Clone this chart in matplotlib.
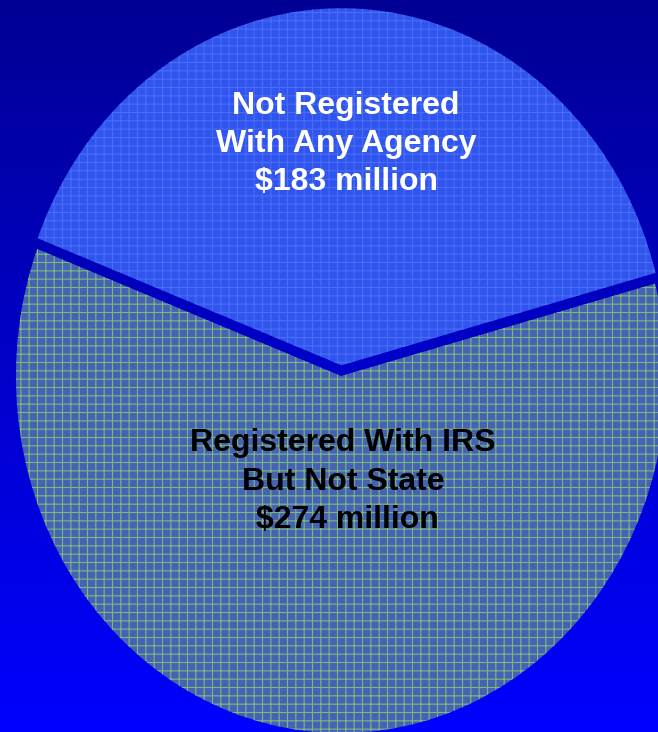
import numpy as np
import matplotlib
matplotlib.use('Agg')
import matplotlib.pyplot as plt

plt.rcParams['font.family'] = ['Liberation Sans', 'DejaVu Sans']
plt.rcParams['hatch.linewidth'] = 0.8

# data
labels = ['Not Registered\nWith Any Agency\n$183 million',
          'Registered With IRS\nBut Not State\n $274 million']
amounts = [183, 274]
slice_colors = ['#2f55ee', '#4662b4']
grid_colors = ['#4a6cf8', '#7cba7c']
text_colors = ['white', 'black']

fig = plt.figure(figsize=(6.58, 7.32), dpi=100)
ax = fig.add_axes([0, 0, 1, 1])

# pie is an ellipse in the picture, so limits are set by hand and aspect left free
xlim = (-1.049, 0.975)
ylim = (-0.997, 1.053)

# background: dark navy at top to pure blue at bottom
grad = np.linspace(0, 1, 256)
bg = np.zeros((256, 1, 3))
bg[:, 0, 2] = 1.0 - 0.42 * grad
ax.imshow(bg, extent=(xlim[0], xlim[1], ylim[0], ylim[1]),
          aspect='auto', origin='lower', zorder=0)

wedges, _ = ax.pie(amounts, colors=slice_colors, startangle=15,
                   explode=[0.03, 0], counterclock=True,
                   wedgeprops=dict(linewidth=0))
for w, gc in zip(wedges, grid_colors):
    w.set_edgecolor(gc)
    w.set_hatch('++')
    w.set_zorder(2)

ax.set_aspect('auto')
ax.set_xlim(xlim)
ax.set_ylim(ylim)
ax.axis('off')

fig.text(0.526, 0.803, labels[0], color=text_colors[0], fontsize=23,
         fontweight='bold', ha='center', va='center', linespacing=1.36)
fig.text(0.521, 0.342, labels[1], color=text_colors[1], fontsize=23,
         fontweight='bold', ha='center', va='center', linespacing=1.36)

fig.savefig('out.png', dpi=100)
